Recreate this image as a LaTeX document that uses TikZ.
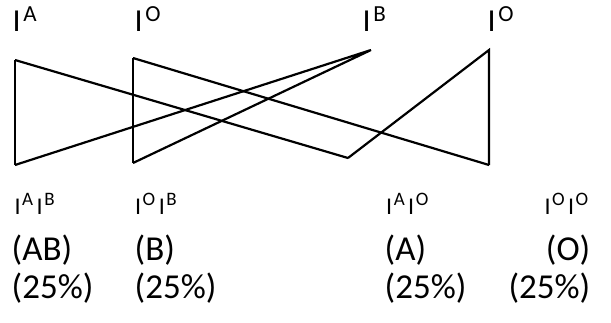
\documentclass[tikz,border=0pt]{standalone}
\usepackage{fontspec}
\setmainfont{Carlito}
\newcommand{\hisup}[1]{\kern2.5pt\raisebox{9.5pt}{\fontsize{23}{23}\selectfont #1}}
\newcommand{\losup}[1]{\kern1.5pt\raisebox{8.5pt}{\fontsize{19}{19}\selectfont #1}\kern3.5pt}
\tikzset{
  allele/.style={anchor=base west,inner sep=0pt,font=\fontsize{32}{32}\selectfont},
  geno/.style={anchor=base west,inner sep=0pt,font=\fontsize{24}{24}\selectfont},
  pheno/.style={anchor=base west,inner sep=0pt,font=\fontsize{35}{35}\selectfont},
  cross/.style={line width=2.2pt,line join=miter}
}
\begin{document}
\begin{tikzpicture}[x=1pt,y=-1pt]
\useasboundingbox (0,0) rectangle (611,322);
% 亲本配子
\node[allele] (gA)  at (12.5,31) {I\hisup{A}};
\node[allele] (gO)  at (134.5,31) {I\hisup{O}};
\node[allele] (gB)  at (362.5,31) {I\hisup{B}};
\node[allele] (gOO) at (487.5,31) {I\hisup{O}};
% 连线端点
\coordinate (tA)  at (15,60);
\coordinate (tO)  at (133,58);
\coordinate (tB)  at (371,50);
\coordinate (tOO) at (489,50);
\coordinate (bAB) at (15,165);
\coordinate (bOB) at (133,163);
\coordinate (bAO) at (348,158);
\coordinate (bOO) at (489,165);
% 配子组合
\draw[cross] (tA) -- (bAB);
\draw[cross] (tA) -- (bAO);
\draw[cross] (tO) -- (bOB);
\draw[cross] (tO) -- (bOO);
\draw[cross] (bAB) -- (tB) -- (bOB);
\draw[cross] (bAO) -- (tOO) -- (bOO);
% 子代基因型
\node[geno] (zAB) at (14.5,214) {I\losup{A}I\losup{B}};
\node[geno] (zOB) at (135,214) {I\losup{O}I\losup{B}};
\node[geno] (zAO) at (386,214) {I\losup{A}I\losup{O}};
\node[geno,anchor=base east] (zOO) at (592,214) {I\losup{O}I\losup{O}};
% 表现型与比例
\node[pheno] (pAB) at (11.5,260) {(AB)};
\node[pheno] (pB)  at (134.5,260) {(B)};
\node[pheno] (pA)  at (384.5,260) {(A)};
\node[pheno,anchor=base east] (pO) at (590.5,260) {(O)};
\node[pheno] (rAB) at (11.5,298) {(25\%)};
\node[pheno] (rB)  at (134.5,298) {(25\%)};
\node[pheno] (rA)  at (384.5,298) {(25\%)};
\node[pheno,anchor=base east] (rO) at (590.5,298) {(25\%)};
\end{tikzpicture}
\end{document}
